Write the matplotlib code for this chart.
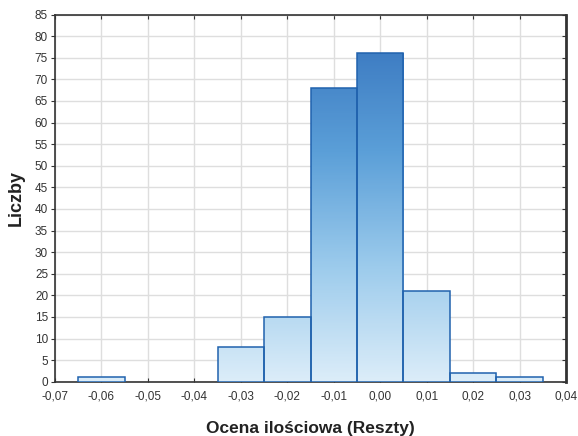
import matplotlib
matplotlib.use("Agg")
import matplotlib.pyplot as plt
import numpy as np
from matplotlib.colors import LinearSegmentedColormap

plt.rcParams['font.family'] = ['Liberation Sans', 'DejaVu Sans']

# histogram of residuals
bin_centers = [-0.06, -0.05, -0.04, -0.03, -0.02, -0.01, 0.00, 0.01, 0.02, 0.03]
counts = [1, 0, 0, 8, 15, 68, 76, 21, 2, 1]
bin_width = 0.01

x_ticks = [-0.07, -0.06, -0.05, -0.04, -0.03, -0.02, -0.01, 0.00, 0.01, 0.02, 0.03, 0.04]
y_ticks = list(range(0, 90, 5))

fig = plt.figure(figsize=(5.78, 4.36), dpi=100)
ax = fig.add_axes([0.0952, 0.1245, 0.884, 0.842])

cmap = LinearSegmentedColormap.from_list('blu', ['#dcedf9', '#9ccbec', '#5b9fd8', '#3a78c0'])

for c, n in zip(bin_centers, counts):
    if n <= 0:
        continue
    x0 = c - bin_width / 2
    bar = ax.bar(c, n, width=bin_width, color='none', edgecolor='#2062ae',
                 linewidth=1.1, zorder=4)[0]
    vals = np.linspace(0, n / 80.0, 256).reshape(-1, 1)
    im = ax.imshow(vals, extent=(x0, x0 + bin_width, 0, n), origin='lower',
                   aspect='auto', cmap=cmap, vmin=0, vmax=1, zorder=3)
    im.set_clip_path(bar)

ax.set_xlim(-0.07, 0.04)
ax.set_ylim(0, 85)
ax.set_xticks(x_ticks)
ax.set_xticklabels([('%.2f' % t).replace('.', ',') for t in x_ticks])
ax.set_yticks(y_ticks)
ax.set_yticklabels([str(t) for t in y_ticks])

ax.grid(True, color='#dedede', linewidth=1.0, zorder=0)
ax.set_axisbelow(True)

for side in ['left', 'bottom', 'top']:
    ax.spines[side].set_color('#333333')
    ax.spines[side].set_linewidth(1.2)
ax.spines['right'].set_color('#333333')
ax.spines['right'].set_linewidth(2.0)

ax.tick_params(axis='both', labelsize=8.5, colors='#333333', length=3)
ax.tick_params(axis='y', direction='out', pad=2)
ax.tick_params(axis='x', direction='in', pad=6, top=True)
ax.tick_params(axis='y', right=True)
for t in ax.yaxis.get_major_ticks():
    t.tick2line.set_marker(matplotlib.lines.TICKLEFT)
for t in ax.xaxis.get_major_ticks():
    t.tick2line.set_marker(matplotlib.lines.TICKDOWN)

ax.set_xlabel('Ocena ilościowa (Reszty)', fontsize=12.5, fontweight='bold', color='#222222', labelpad=14)
ax.set_ylabel('Liczby', fontsize=13, fontweight='bold', color='#222222', labelpad=7)

fig.savefig('out.png', dpi=100)
